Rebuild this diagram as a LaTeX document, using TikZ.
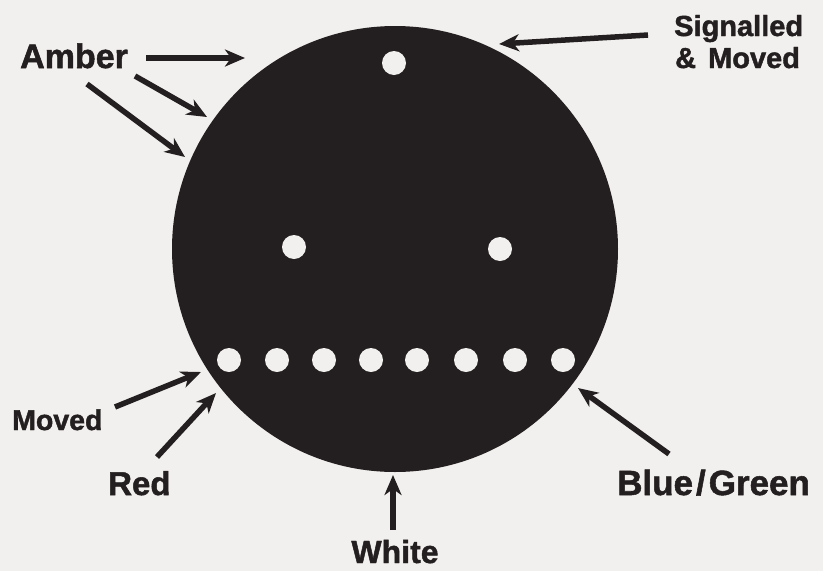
\documentclass[tikz,border=0pt]{standalone}
\usepackage{fontspec}
\setmainfont{Liberation Sans}[BoldFeatures={FakeBold=1.5}]
\usetikzlibrary{arrows.meta}
\definecolor{ink}{HTML}{231F20}
\definecolor{paper}{HTML}{F2F0EE}
\begin{document}
\begin{tikzpicture}[x=1pt,y=-1pt,
  lbl/.style={font=\bfseries, text=ink, inner sep=0pt, anchor=base west},
  arr/.style={draw=ink, line width=5.5pt, -{Stealth[length=20pt,width=17pt,inset=6pt]}},
  hole/.style={fill=paper}]
\fill[paper] (0,0) rectangle (823,571);
\useasboundingbox (0,0) rectangle (823,571);
% disc
\fill[ink] (395,249) circle[radius=223pt];
% holes
\fill[hole] (394,63) circle[radius=12pt];
\fill[hole] (294,247) circle[radius=12pt];
\fill[hole] (500,249) circle[radius=12pt];
\foreach \x in {229,277,324,371,417,466,515,563}
  \fill[hole] (\x,360) circle[radius=12pt];
% labels
\node[lbl, font=\bfseries\fontsize{34}{36}\selectfont] (amber) at (20,68) {Amber};
\node[lbl, font=\bfseries\fontsize{29}{32}\selectfont] (sig1) at (674,36) {Signalled};
\node[lbl, font=\bfseries\fontsize{29}{32}\selectfont] (sig2) at (675,68) {\&\hspace{12pt}Moved};
\node[lbl, font=\bfseries\fontsize{28.5}{30}\selectfont] (moved) at (12,430) {Moved};
\node[lbl, font=\bfseries\fontsize{33}{35}\selectfont] (red) at (108,495) {Red};
\node[lbl, anchor=base, font=\bfseries\fontsize{32}{34}\selectfont] (white) at (395,563) {White};
\node[lbl, font=\bfseries\fontsize{35}{37}\selectfont] (bg) at (617,495) {Blue\hspace{3pt}/\hspace{3pt}Green};
% arrow ends
\coordinate (a1s) at (146,58);  \coordinate (a1e) at (245,58);
\coordinate (a2s) at (135,76);  \coordinate (a2e) at (207,117);
\coordinate (a3s) at (87,84);   \coordinate (a3e) at (185,157);
\coordinate (ss) at (648,35);   \coordinate (se) at (499,44);
\coordinate (ms) at (115,407);  \coordinate (me) at (201,372);
\coordinate (rs) at (157,457);  \coordinate (re) at (216,393);
\coordinate (ws) at (393,530);  \coordinate (we) at (393,475);
\coordinate (bs) at (669,454);  \coordinate (be) at (578,388);
\draw[arr] (a1s) -- (a1e);
\draw[arr] (a2s) -- (a2e);
\draw[arr] (a3s) -- (a3e);
\draw[arr] (ss) -- (se);
\draw[arr] (ms) -- (me);
\draw[arr] (rs) -- (re);
\draw[arr] (ws) -- (we);
\draw[arr] (bs) -- (be);
\end{tikzpicture}
\end{document}
